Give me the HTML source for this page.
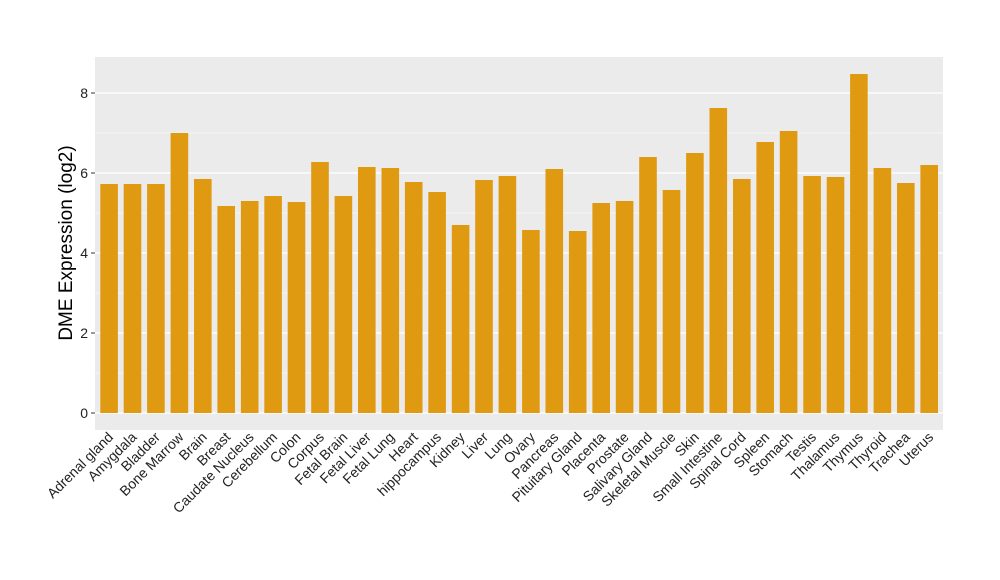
<!DOCTYPE html>
<html><head><meta charset="utf-8"><style>body{margin:0;background:#fff}svg{display:block}</style></head><body>
<svg width="1000" height="580" xmlns="http://www.w3.org/2000/svg" font-family="Liberation Sans, sans-serif">
<rect width="1000" height="580" fill="#fff"/>
<rect x="95" y="57" width="848" height="373" fill="#EBEBEB"/>
<g stroke="#fff" stroke-width="0.6">
<line x1="95" x2="943" y1="373" y2="373"/><line x1="95" x2="943" y1="293" y2="293"/><line x1="95" x2="943" y1="213" y2="213"/><line x1="95" x2="943" y1="133" y2="133"/>
</g>
<g stroke="#fff" stroke-width="1.2">
<line x1="95" x2="943" y1="413" y2="413"/><line x1="95" x2="943" y1="333" y2="333"/><line x1="95" x2="943" y1="253" y2="253"/><line x1="95" x2="943" y1="173" y2="173"/><line x1="95" x2="943" y1="93" y2="93"/>
</g>
<g fill="#E09A12">
<rect x="100.3" y="184" width="17.6" height="229"/>
<rect x="123.7" y="184" width="17.6" height="229"/>
<rect x="147.1" y="184" width="17.6" height="229"/>
<rect x="170.6" y="133" width="17.6" height="280"/>
<rect x="194.0" y="179" width="17.6" height="234"/>
<rect x="217.4" y="206" width="17.6" height="207"/>
<rect x="240.9" y="201" width="17.6" height="212"/>
<rect x="264.3" y="196" width="17.6" height="217"/>
<rect x="287.7" y="202" width="17.6" height="211"/>
<rect x="311.2" y="162" width="17.6" height="251"/>
<rect x="334.6" y="196" width="17.6" height="217"/>
<rect x="358.0" y="167" width="17.6" height="246"/>
<rect x="381.5" y="168" width="17.6" height="245"/>
<rect x="404.9" y="182" width="17.6" height="231"/>
<rect x="428.3" y="192" width="17.6" height="221"/>
<rect x="451.8" y="225" width="17.6" height="188"/>
<rect x="475.2" y="180" width="17.6" height="233"/>
<rect x="498.6" y="176" width="17.6" height="237"/>
<rect x="522.1" y="230" width="17.6" height="183"/>
<rect x="545.5" y="169" width="17.6" height="244"/>
<rect x="568.9" y="231" width="17.6" height="182"/>
<rect x="592.4" y="203" width="17.6" height="210"/>
<rect x="615.8" y="201" width="17.6" height="212"/>
<rect x="639.2" y="157" width="17.6" height="256"/>
<rect x="662.7" y="190" width="17.6" height="223"/>
<rect x="686.1" y="153" width="17.6" height="260"/>
<rect x="709.5" y="108" width="17.6" height="305"/>
<rect x="733.0" y="179" width="17.6" height="234"/>
<rect x="756.4" y="142" width="17.6" height="271"/>
<rect x="779.8" y="131" width="17.6" height="282"/>
<rect x="803.3" y="176" width="17.6" height="237"/>
<rect x="826.7" y="177" width="17.6" height="236"/>
<rect x="850.1" y="74" width="17.6" height="339"/>
<rect x="873.6" y="168" width="17.6" height="245"/>
<rect x="897.0" y="183" width="17.6" height="230"/>
<rect x="920.4" y="165" width="17.6" height="248"/>
</g>
<g stroke="#333" stroke-width="1">
<line x1="91" x2="95" y1="413" y2="413"/><line x1="91" x2="95" y1="333" y2="333"/><line x1="91" x2="95" y1="253" y2="253"/><line x1="91" x2="95" y1="173" y2="173"/><line x1="91" x2="95" y1="93" y2="93"/>
</g>
<g font-size="14" fill="#222" text-anchor="end">
<text x="88" y="418">0</text><text x="88" y="338">2</text><text x="88" y="258">4</text><text x="88" y="178">6</text><text x="88" y="98">8</text>
</g>
<text transform="translate(72,243) rotate(-90)" font-size="19" text-anchor="middle" fill="#000">DME Expression (log2)</text>
<g font-size="14" fill="#222" text-anchor="end">
<text transform="translate(114,438) rotate(-45)">Adrenal gland</text>
<text transform="translate(137.5,438) rotate(-45)">Amygdala</text>
<text transform="translate(160.9,438) rotate(-45)">Bladder</text>
<text transform="translate(184.4,438) rotate(-45)">Bone Marrow</text>
<text transform="translate(207.8,438) rotate(-45)">Brain</text>
<text transform="translate(231.2,438) rotate(-45)">Breast</text>
<text transform="translate(254.7,438) rotate(-45)">Caudate Nucleus</text>
<text transform="translate(278.1,438) rotate(-45)">Cerebellum</text>
<text transform="translate(301.5,438) rotate(-45)">Colon</text>
<text transform="translate(325,438) rotate(-45)">Corpus</text>
<text transform="translate(348.4,438) rotate(-45)">Fetal Brain</text>
<text transform="translate(371.8,438) rotate(-45)">Fetal Liver</text>
<text transform="translate(395.3,438) rotate(-45)">Fetal Lung</text>
<text transform="translate(418.7,438) rotate(-45)">Heart</text>
<text transform="translate(442.1,438) rotate(-45)">hippocampus</text>
<text transform="translate(465.6,438) rotate(-45)">Kidney</text>
<text transform="translate(489,438) rotate(-45)">Liver</text>
<text transform="translate(512.4,438) rotate(-45)">Lung</text>
<text transform="translate(535.9,438) rotate(-45)">Ovary</text>
<text transform="translate(559.3,438) rotate(-45)">Pancreas</text>
<text transform="translate(582.7,438) rotate(-45)">Pituitary Gland</text>
<text transform="translate(606.2,438) rotate(-45)">Placenta</text>
<text transform="translate(629.6,438) rotate(-45)">Prostate</text>
<text transform="translate(653,438) rotate(-45)">Salivary Gland</text>
<text transform="translate(676.5,438) rotate(-45)">Skeletal Muscle</text>
<text transform="translate(699.9,438) rotate(-45)">Skin</text>
<text transform="translate(723.3,438) rotate(-45)">Small Intestine</text>
<text transform="translate(746.8,438) rotate(-45)">Spinal Cord</text>
<text transform="translate(770.2,438) rotate(-45)">Spleen</text>
<text transform="translate(793.6,438) rotate(-45)">Stomach</text>
<text transform="translate(817.1,438) rotate(-45)">Testis</text>
<text transform="translate(840.5,438) rotate(-45)">Thalamus</text>
<text transform="translate(863.9,438) rotate(-45)">Thymus</text>
<text transform="translate(887.4,438) rotate(-45)">Thyroid</text>
<text transform="translate(910.8,438) rotate(-45)">Trachea</text>
<text transform="translate(934.2,438) rotate(-45)">Uterus</text>
</g>
</svg>
</body></html>
